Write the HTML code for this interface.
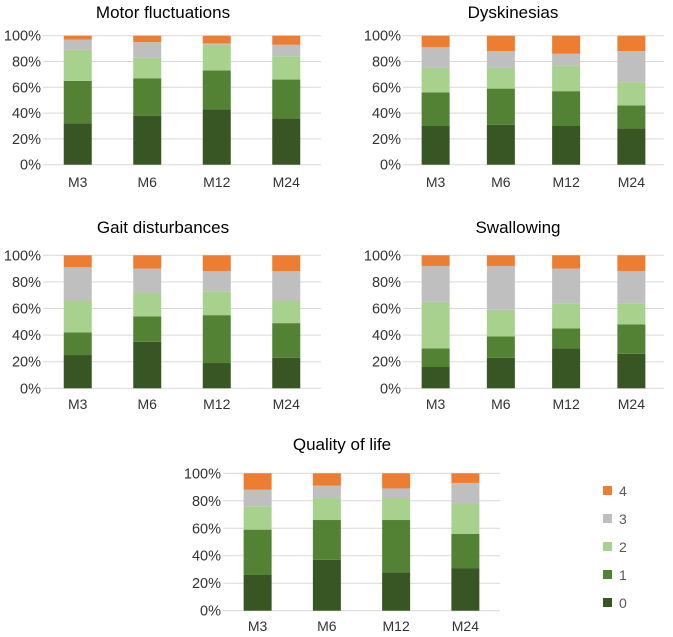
<!DOCTYPE html>
<html><head><meta charset="utf-8"><style>
body{margin:0;background:#fff;width:673px;height:632px;overflow:hidden}
svg{font-family:"Liberation Sans",Arial,sans-serif}
</style></head><body>
<svg id="c" width="673" height="632" viewBox="0 0 673 632"></svg>
<script>
const categories=["M3","M6","M12","M24"];
const seriesNames=["0","1","2","3","4"];
const colors=["#375623","#548235","#a9d18e","#bfbfbf","#ed7d31"];
const yTicks=[0,20,40,60,80,100];
// cumulative tops for levels 0..3 per category (level 4 reaches 100)
const motorCum=[[32,65,89,97],[38,67,83,95],[43,73,93,94],[36,66,84,93]];
const dyskCum=[[30,56,75,91],[31,59,75,88],[30,57,77,86],[28,46,64,88]];
const gaitCum=[[25,42,66,91],[35,54,72,90],[19,55,73,88],[23,49,66,88]];
const swallowCum=[[16,30,65,92],[23,39,59,92],[30,45,64,90],[26,48,64,88]];
const qolCum=[[26,59,76,88],[37,66,82,91],[28,66,82,89],[31,56,78,93]];
const titles=["Motor fluctuations","Dyskinesias","Gait disturbances","Swallowing","Quality of life"];
const panels=[
 {name:"motor-fluctuations",data:motorCum,x0:43,x1:321,y0:164.7,y1:35.7,ty:18,tx:163,ly:188},
 {name:"dyskinesias",data:dyskCum,x0:403,x1:664,y0:164.7,y1:35.7,ty:18,tx:513,ly:188},
 {name:"gait-disturbances",data:gaitCum,x0:43,x1:321,y0:388.3,y1:255.3,ty:233,tx:163,ly:410},
 {name:"swallowing",data:swallowCum,x0:403,x1:664,y0:388.3,y1:255.3,ty:233,tx:518,ly:410},
 {name:"quality-of-life",data:qolCum,x0:223,x1:500,y0:610.7,y1:473.3,ty:450,tx:342,ly:632}
];
const NS="http://www.w3.org/2000/svg";
const svg=document.getElementById('c');
function mk(t,a,p){const e=document.createElementNS(NS,t);for(const k in a)e.setAttribute(k,a[k]);(p||svg).appendChild(e);return e;}
panels.forEach((p,pi)=>{
 const g=mk('g',{});
 
 
 const yS=v=>p.y0+(p.y1-p.y0)*v/100;
 const bw=(p.x1-p.x0)/categories.length;
 const xC=i=>p.x0+bw*(i+0.5);
 const t=mk('text',{x:p.tx,y:p.ty,'text-anchor':'middle','font-size':17,fill:'#000'},g);
 t.textContent=titles[pi];
 
 
 yTicks.forEach(v=>{
  const l=mk('line',{x1:p.x0,x2:p.x1,y1:yS(v),y2:yS(v),stroke:'#d9d9d9','stroke-width':1},g);
  
  
  const tx=mk('text',{x:p.x0-2,y:yS(v)+5,'text-anchor':'end','font-size':14.5,fill:'#333'},g);
  tx.textContent=v+'%';
  
  
 });
 categories.forEach((c,i)=>{
  const tops=p.data[i].concat([100]);
  let prev=0;
  tops.forEach((top,s)=>{
   const r=mk('rect',{x:xC(i)-14,y:yS(top),width:28,height:yS(prev)-yS(top),fill:colors[s]},g);
   
   
   prev=top;
  });
  const tx=mk('text',{x:xC(i),y:p.ly-1,'text-anchor':'middle','font-size':14,fill:'#333'},g);
  tx.textContent=c;
  
  
 });
});
const lg=mk('g',{});


[4,3,2,1,0].forEach((s,k)=>{
 const y=491+k*28;
 const r=mk('rect',{x:603,y:y-5,width:9,height:9,fill:colors[s]},lg);
 
 
 const t=mk('text',{x:619,y:y+5,'font-size':14,fill:'#595959'},lg);
 t.textContent=seriesNames[s];
 
 
});
</script>
</body></html>
